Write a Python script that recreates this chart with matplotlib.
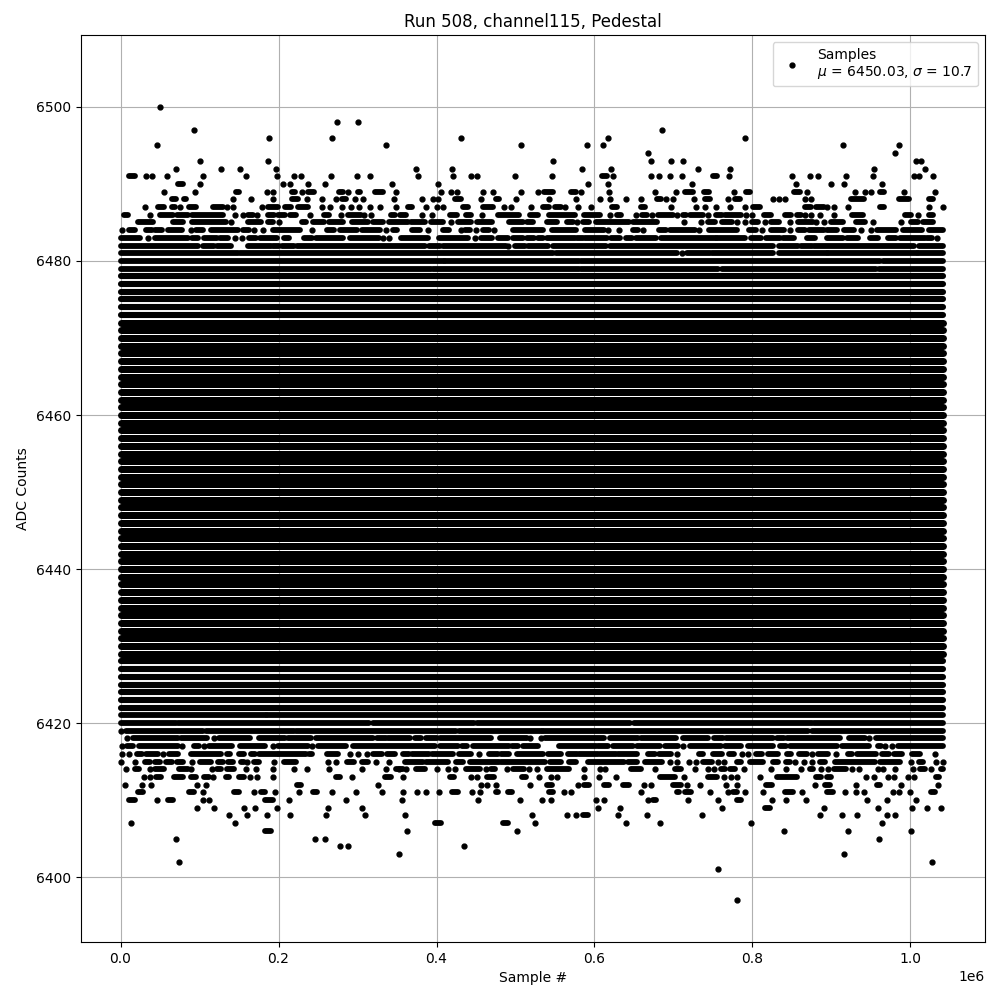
"""
Pedestal samples of one ADC channel, read off the picture level by level
"""
import matplotlib
matplotlib.use('Agg')
import matplotlib.pyplot as plt

# Sample positions are in thousands. A number is one sample, a tuple is a
# stretch of samples so close together that they form a solid run.
row_6500 = [50]
row_6498 = [274, 300.6]
row_6497 = [93, 686]
row_6496 = [188, 268, 431, 617, 791]
row_6495 = [46, 336, 507, 591, 611, 915, 985]
row_6494 = [668, 981]
row_6493 = [100.5, 186.6, 548, 672, 697, 712, 1007, 1013]
row_6492 = [70, 127, 151, 197, 374, 420, 584, 621, 731, 772, 954, 1019]
row_6491 = [(11, 18), 32, 39.7, 58.7, 104, 158.7, 198, 219.5, 228.4, 266.4, 299, 315.8, 377, 421, 444, 451,
            500, 546, (610, 616), 624, 672, 682, 695, 711, (750, 755), 770, 850, 873, 883, 919, 952, 1004,
            1011, 1028]
row_6490 = [(72.6, 79), 100.5, 205.6, 214.5, 237, 258.8, 343.7, 402, 592, 617, 724, 855, 900, 916, 964]
row_6489 = [55, 94, (146.5, 150), 185.4, 193, (217, 221), 229.7, (237, 244.5), (276.5, 281.6), 288, (300.6, 303.6),
            (322, 332), 348.7, 406, 418, 426, 459, 472, 507, 529, (536, 548), (570, 577), 583, 619, 676, 703,
            (715, 725), (739, 745), 777, (792, 797), (853, 860), 869, 930, 943, 950, (962, 966), 992, 1031]
row_6488 = [(65, 70.5), (79.8, 82.3), 142.3, 165, 193, (217, 224.6), 236, 255, 272.7, (280.4, 285.4), 296.8, 307, 346,
            382, 396, 402, (423, 431), 456, (475, 479), 501, 543, 577, 607, 620, 640, 659, (679, 684), 691, 700,
            726, (740, 746), 769, (778, 784), 826, 834, 841, 866, 874, (925, 941), (986, 998), (1024, 1029)]
row_6487 = [30.8, (47.3, 55), (65, 69), 75, (86.5, 95), (117, 129.6), 134.7, 142.3, 179, (186.6, 199.3), (208, 215.7),
            (224.6, 237), 255, 265, 280.4, 291.7, 302, 315.8, 328.5, 348.7, (364, 369), 387, 401, 408, (434, 440),
            (459, 472), 486, 494, 520, (535, 543), (550, 557), 563, 579, 596, (622, 628), (659, 664), 697, 729,
            740, 754, 772, 791, (801, 810), (867, 874), (881, 890), 895, 903, 921, (962, 966), 1024, 1041]
row_6486 = [(5, 9.3), 37, (50, 66), (72, 85), (90, 129.6), 144.8, 155, (161, 167.6), 172.7, (186.6, 194), (199, 208),
            (214.5, 222.5), 240, (257.5, 264), 279, (288, 304), 308.6, 317, (342.4, 347.5), (354, 361), 382, 394,
            (417, 426), (437, 444), 458, (478, 505), (518, 529), (543, 575), (587, 607), 620, (629, 634), 652,
            (660, 667), 673, (681, 700), 705, (712, 716), (721, 738), 744, (754, 761), (765, 786), 792, 800,
            (815, 824), (841, 849), (857, 861), 867, 874, 886, 903, (926, 940), (993, 1001), 1009, (1024, 1029)]
row_6485 = [(22, 41), (66, 79), (90, 134), 140, (161, 178), (187, 193), 200, (230, 235), (244, 258), (264, 282),
            (293, 313), (320, 332), (340, 364), (368, 385), (393, 408), 418, (427, 444), (451, 470), (492, 510),
            (515, 522), (540, 553), (565, 573), 578, (586, 593), (602, 644), (649, 679), 713, 735, (744, 752),
            (762, 774), 781, 790, (800, 807), 816, (823, 833), 848, (858, 877), 881, 890, (900, 915), (931, 943),
            952, 988, (1001, 1010), (1016, 1029)]
row_6484 = [2, (11, 18), (32, 40), (43, 52), (60, 78), 89, (96, 104), (115, 149), (155, 163), 169, 180, (193, 227), 242,
            (261, 270), (278, 299), (306, 328), 336, (345, 350), (369, 379), 389, (408, 416), 431, (436, 442), 450,
            (459, 467), 473, (497, 535), (546, 577), (588, 612), 617, 631, (649, 655), 662, (682, 691), (696, 727),
            732, (745, 781), (795, 804), 812, (824, 840), 848, (858, 867), (872, 890), (895, 907), (916, 928), 938,
            950, (958, 982), (991, 1015), (1024, 1041)]
row_6483 = [(1, 25), 35, (44, 86), (90, 98), (106, 122), (126, 136), 145, 154, (162, 172), (177, 198), (207, 213),
            (232, 242), (248, 282), (290, 327), 332, 340, (355, 389), (403, 440), 449, (456, 470), (478, 491),
            (497, 510), (515, 524), (529, 535), (540, 575), (578, 586), (588, 616), (621, 632), (640, 648), (653, 678),
            (684, 754), (755, 791), (798, 811), (817, 835), (839, 852), (869, 879), (894, 914), (920, 934), (949, 959),
            (971, 982), (987, 1018), (1021, 1027), 1033]
row_6482 = [(1, 98), (104, 118), (122, 140), (161, 190), (193, 201), (204, 219), (224, 386), (391, 405), (408, 488), 491,
            (500, 512), (516, 541), (548, 615), (620, 826), (833, 858), (861, 875), (878, 1004), (1011, 1041)]
row_6481 = [(1, 149), (151, 547), (551, 704), 711, (717, 746), (749, 826), (833, 894), (896, 1008), (1010, 1041)]
row_6480 = [(1, 409), (411, 581), (583, 961), (965, 1041)]
row_6479 = [(1, 393), (396, 581), (583, 756), (761, 957), (960, 1041)]

row_6421 = [(1, 184), (186, 1041)]
row_6420 = [(1, 70), (73, 315), (320, 448), (451, 645), (650, 875), (878, 1041)]
row_6419 = [1, (7, 104), (108.5, 220), (222.5, 425), (428, 533), (535, 870), (875, 1041)]
row_6418 = [8, (15.6, 72.6), (76.4, 109.4), 118, (124.6, 163.4), (175, 208), (212, 241.5), (248, 320), (325, 336.5),
            (338.6, 367), (372.4, 381), (387, 400), (404, 469.5), (480, 514), 518, 532.8, (537, 611.8), (620.2, 655),
            (659.5, 703.8), (712, 744), (751.5, 762.9), (767, 826), (831.7, 839.7), (844, 910.7), (922.5, 942), 947.8,
            (955.8, 1041)]
row_6417 = [2, (8, 15.6), (22.8, 72.6), 77.7, (93, 99), 105.5, (112, 140.6), (151, 182.4), 193, (199.3, 237), 242,
            (250, 286), (294, 397.7), (404, 427), (432, 438.7), (446, 492), (496, 503), (509.6, 528.6), (555, 601.7),
            (604.6, 617), (623.6, 649), (654, 682.7), (689, 706), 712, (720.7, 760.8), (765, 786), (794.5, 826),
            (834.7, 843), (848, 907), (913.6, 947.8), (959, 962.6), 968, 977, (984.5, 1041)]
row_6416 = [2, 10.6, (20.7, 27), (32.5, 47.3), 53.6, (61, 72.6), (89, 127.5), (134.7, 139), (150, 156), (164.7, 170),
            (175, 199), (200.5, 235), (238.5, 242), (261.5, 275), 290.5, 300.6, 312, (320, 331), (337.5, 347.5),
            (357.6, 365), (369.4, 390.5), (394.4, 421), (428.5, 444), 454, (466.5, 478), (482, 491.5), (502, 535),
            (541.3, 557), (566.6, 578), (580.5, 604.6), (607, 627.8), (630, 654), (668, 676.8), (681.9, 697.5), 704.7,
            (732.5, 737.6), (750, 761.6), (770.5, 776.8), 787, 794.5, (804.7, 812.3), (820, 832.5), (844, 849),
            (859, 869), 875.6, (883, 895.9), 906, (921, 926), (932.6, 957), (964, 973), (979.5, 989.6), (1002, 1012.4),
            1031.4]
row_6415 = [1, 18, (30.4, 36.7), (43, 49.4), (57, 65), (71.4, 79), 90.4, (101, 115), (123, 129.6), (136, 142), (152, 156),
            160, (168.5, 175), 194, (207, 222), 262.6, 273, (287, 295.5), (306, 313), 323, 340, (359.7, 383),
            (387, 414.6), (425, 433.6), (442, 479), (482, 537), (544, 557), (568, 577), (592, 637), (642.6, 654),
            (664, 685), 695.8, 704.7, 719.8, 728.7, (737.6, 749), 756.6, 764, (779.8, 785.7), (796.7, 813.6), (826, 832.5),
            (843, 848), 854, 865.5, 875.6, (885.7, 892), (904.7, 955.4), (961.7, 986.7), 1001, (1011, 1016), 1032.7, 1041]
row_6414 = [6.8, (18, 23), 37, (44, 55), (74, 85), 89, 116, (122, 127.5), (135, 143.6), 159, 171.4, 193, 220, 236, 264, 306,
            336, (349, 358), 353, 361.4, (374.5, 385), 400, 414.6, 423.5, (437.8, 454.7), 462.8, (469.5, 473.7), 489.3,
            (497, 510.5), 517, 527.3, (540, 568), 587, 607, 613, (646.4, 659), 676.8, (702, 709.7), 727.5, 744, 751.5,
            (760, 765.4), (771.3, 778), 789.5, 823.7, 842.7, 861, (873, 877), 887, 895.9, (903.5, 918), 926, 935, 959,
            965.5, 980.7, 1003.5, (1012, 1018.7), 1026.3, (1039, 1041)]
row_6413 = [30, 37, (45, 51.5), (68, 79), (89, 95), (105.5, 112), 117, (134, 137), (150, 156), 164, 173, 193, (273, 278), 293,
            (335, 342.5), 358, (416.7, 422), 443.7, 451.4, (464, 473), (508, 513), 530, 545, 552.7, 587, 606, 627.4,
            (683, 702), 713.5, (744, 755), 764, 773, 780.6, 809.7, (831.3, 856.6), (880.7, 887), (894.6, 900), 944, 954,
            972, 979.5, 997, 1004.8, (1032, 1036.5)]
row_6412 = [5.5, 27, 38.4, 97, 108, (223, 228), 326, 456.4, 464, 475.4, 518.5, (540, 546.3), 579.3, (587, 593), (612, 618.5),
            (636, 644), 662.9, 671.7, (699.6, 709), 717, 733.8, 766.7, 780.6, (817, 825), 879.4, (892, 898.4), 931.3,
            (958, 961.7), 988, 1035]
row_6411 = [(22, 28), (87, 93), 104, (143.6, 150), 169, (178, 183), 195.5, 226, (244, 249), 268, 298, 331, 358, 375, 387, 403,
            (419.7, 427), 445, 455, (475.4, 478), (490.6, 495), (542.5, 547.6), 561.5, 570.4, 659, (705, 707), (714, 722.8),
            746.4, 769, (775.6, 779.8), 790.8, 813.6, (841.4, 851.5), 863, (894.6, 902), 917.4, 931, 941.5, 978, 986, 999.7,
            (1026, 1031.4)]
row_6410 = [(11, 18), 46, (60, 66), 104, 112, (183, 193), 213, 285.4, 356, 452.6, 506, 534, 545, 602, 612, 668, (674, 678.5),
            718.6, 756.6, (780.6, 785.7), 825, 842.7, 868, 945, 970.6, 1007]
row_6409 = [97, 118, 156, 170, 198, 263, 306, 605, 632.5, 761.6, (815.7, 822), 891, 959, 1002, 1021, 1039]
row_6408 = [137, 160, 185.4, 214.5, 260, 310, 360, 521, 565, 577, (586, 592), 630, 667, 736, 886, 913.6, 932.6, 970.6, 980.7]
row_6407 = [13, 145, (398, 406), (484, 491), 525, 640, 683, 798, 964]
row_6406 = [(183, 190), 362.7, 502, 840, 921, 1001]
row_6405 = [70, 246, 259, 960.5]
row_6404 = [278, 288, 435]
row_6403 = [352.5, 916]
row_6402 = [74, 1027.6]
row_6401 = [756.6]
row_6397 = [780.6]

sparse_levels = [6500, 6498, 6497, 6496, 6495, 6494, 6493, 6492, 6491, 6490, 6489, 6488, 6487, 6486, 6485, 6484, 6483,
                 6482, 6481, 6480, 6479, 6421, 6420, 6419, 6418, 6417, 6416, 6415, 6414, 6413, 6412, 6411, 6410, 6409,
                 6408, 6407, 6406, 6405, 6404, 6403, 6402, 6401, 6397]
sparse_rows = [row_6500, row_6498, row_6497, row_6496, row_6495, row_6494, row_6493, row_6492, row_6491, row_6490,
               row_6489, row_6488, row_6487, row_6486, row_6485, row_6484, row_6483, row_6482, row_6481, row_6480,
               row_6479, row_6421, row_6420, row_6419, row_6418, row_6417, row_6416, row_6415, row_6414, row_6413,
               row_6412, row_6411, row_6410, row_6409, row_6408, row_6407, row_6406, row_6405, row_6404, row_6403,
               row_6402, row_6401, row_6397]

# Levels hit all along the run, they show up as unbroken bands
full_levels = list(range(6422, 6479))
first_sample = 1
last_sample = 1041

fig, ax = plt.subplots(figsize=(10, 10), dpi=100)
fig.subplots_adjust(left=0.0805, right=0.985, top=0.965, bottom=0.058)

dots_x = []
dots_y = []
for level, row in zip(sparse_levels, sparse_rows):
    for item in row:
        if isinstance(item, tuple):
            ax.plot([item[0] * 1000, item[1] * 1000], [level, level], color='k', lw=4.2, solid_capstyle='round')
        else:
            dots_x.append(item * 1000)
            dots_y.append(level)

# Bands in the middle are so full that they grow a bit fatter than one marker
for level in full_levels:
    width = 5.04 if 6429 <= level <= 6472 else 4.4
    ax.plot([first_sample * 1000, last_sample * 1000], [level, level], color='k', lw=width, solid_capstyle='round')

ax.plot(dots_x, dots_y, '.', color='k', ms=7, label='Samples\n$\\mu$ = 6450.03, $\\sigma$ = 10.7')

ax.set_xlim(-50700, 1094400)
ax.set_ylim(6391.56, 6509.35)
ax.set_title('Run 508, channel115, Pedestal')
ax.set_xlabel('Sample #')
ax.set_ylabel('ADC Counts')
ax.grid()
ax.legend(loc='upper right')

plt.savefig('out.png', dpi=100)
